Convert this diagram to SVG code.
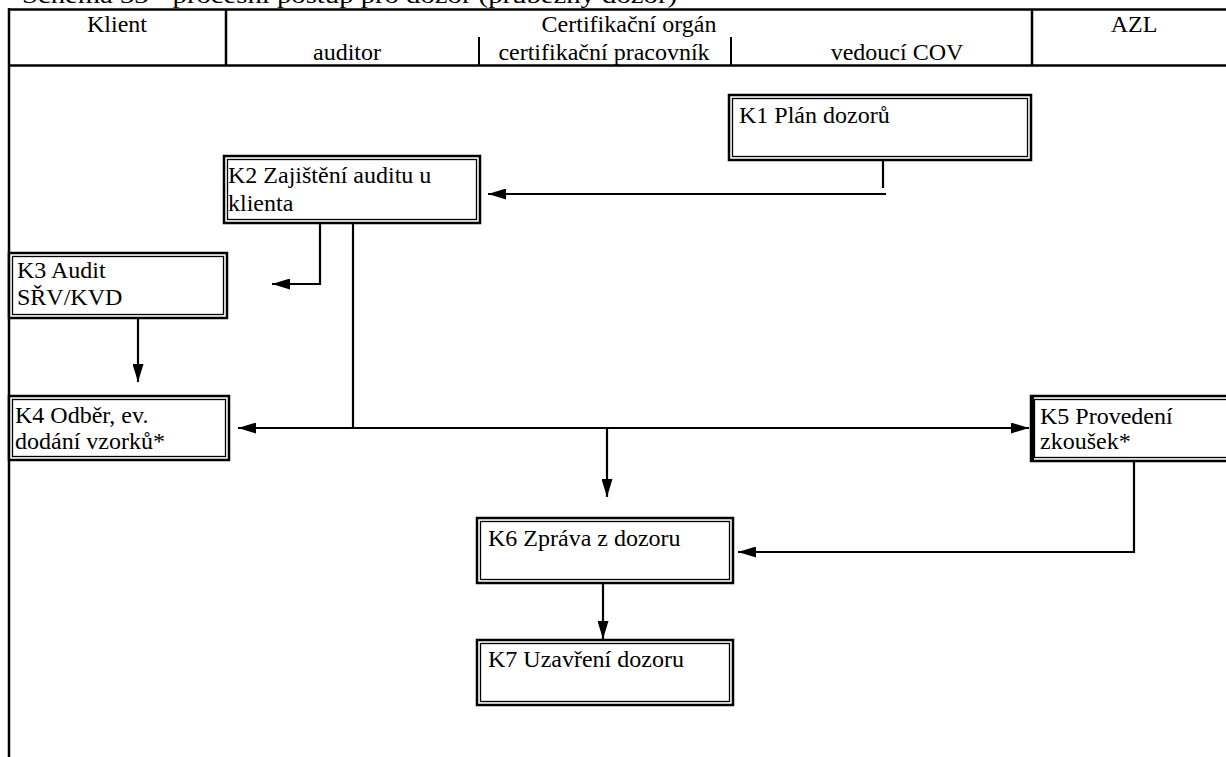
<svg xmlns="http://www.w3.org/2000/svg" width="1226" height="757" viewBox="0 0 1226 757" font-family="Liberation Serif, Times New Roman, serif">
<style>
text{font-family:'Liberation Serif',serif;font-size:24px;fill:#000}
.h{text-anchor:middle}
.grid{stroke:#000;stroke-width:2.5;fill:none}
.thin{stroke:#000;stroke-width:2;fill:none}
.outer{stroke:#000;stroke-width:2.5;fill:#fff}
.inner{stroke:#000;stroke-width:1.3;fill:none}
.c{stroke:#000;stroke-width:2.2;fill:none}
</style>
<defs>
<marker id="ar" viewBox="0 0 18 11" refX="18" refY="5.5" markerWidth="18" markerHeight="11" markerUnits="userSpaceOnUse" orient="auto">
<path d="M0,0 L18,5.5 L0,11 Z" fill="#000"/>
</marker>
</defs>
<rect width="1226" height="757" fill="#fff"/>
<text x="22" y="3" textLength="655" lengthAdjust="spacingAndGlyphs">Schéma 33 - procesní postup pro dozor (průběžný dozor)</text>
<g id="header">
<line class="grid" x1="8" y1="9.5" x2="1226" y2="9.5"/>
<line class="grid" x1="8" y1="65.5" x2="1226" y2="65.5"/>
<line class="grid" x1="9" y1="8" x2="9" y2="757"/>
<line class="grid" x1="226" y1="9" x2="226" y2="66"/>
<line class="grid" x1="1032" y1="9" x2="1032" y2="66"/>
<line class="thin" x1="479" y1="37" x2="479" y2="66"/>
<line class="thin" x1="731" y1="37" x2="731" y2="66"/>
<text class="h" x="117" y="32">Klient</text>
<text class="h" x="629" y="32">Certifikační orgán</text>
<text class="h" x="1134" y="32">AZL</text>
<text class="h" x="347" y="60">auditor</text>
<text class="h" x="604" y="60">certifikační pracovník</text>
<text class="h" x="897" y="60">vedoucí COV</text>
</g>
<g id="connectors">
<polyline class="c" points="883,160 883,188"/>
<polyline class="c" points="886,194 488,194" marker-end="url(#ar)"/>
<polyline class="c" points="320,214 320,284 272,284" marker-end="url(#ar)"/>
<polyline class="c" points="353,224 353,429"/>
<polyline class="c" points="620,428 238,428" marker-end="url(#ar)"/>
<polyline class="c" points="600,428 1029,428" marker-end="url(#ar)"/>
<polyline class="c" points="138,312 138,382" marker-end="url(#ar)"/>
<polyline class="c" points="607,428 607,497" marker-end="url(#ar)"/>
<polyline class="c" points="1134,462 1134,552 738,552" marker-end="url(#ar)"/>
<polyline class="c" points="603,584 603,639" marker-end="url(#ar)"/>
</g>
<g id="K1">
<rect class="outer" x="729" y="95" width="302" height="65"/>
<rect class="inner" x="732.5" y="98.5" width="295" height="58"/>
<text x="739" y="123">K1 Plán dozorů</text>
</g>
<g id="K2">
<rect class="outer" x="224" y="156" width="256" height="67"/>
<rect class="inner" x="227.5" y="159.5" width="249" height="60"/>
<text x="228" y="183">K2 Zajištění auditu u</text>
<text x="228" y="211">klienta</text>
</g>
<g id="K3">
<rect class="outer" x="9" y="253" width="218" height="65"/>
<rect class="inner" x="12.5" y="256.5" width="211" height="58"/>
<text x="17" y="278">K3 Audit</text>
<text x="17" y="305">SŘV/KVD</text>
</g>
<g id="K4">
<rect class="outer" x="9" y="396" width="220" height="64"/>
<rect class="inner" x="12.5" y="399.5" width="213" height="57"/>
<text x="15" y="423">K4 Odběr, ev.</text>
<text x="15" y="449">dodání vzorků*</text>
</g>
<g id="K5">
<rect class="outer" x="1031" y="396" width="210" height="65"/>
<rect class="inner" x="1034.5" y="399.5" width="203" height="58"/>
<line x1="1032" y1="397" x2="1032" y2="460" stroke="#000" stroke-width="4"/>
<text x="1040" y="424">K5 Provedení</text>
<text x="1040" y="449">zkoušek*</text>
</g>
<g id="K6">
<rect class="outer" x="477" y="518" width="256" height="65"/>
<rect class="inner" x="480.5" y="521.5" width="249" height="58"/>
<text x="488" y="546">K6 Zpráva z dozoru</text>
</g>
<g id="K7">
<rect class="outer" x="477" y="640" width="256" height="65"/>
<rect class="inner" x="480.5" y="643.5" width="249" height="58"/>
<text x="488" y="667">K7 Uzavření dozoru</text>
</g>
</svg>
